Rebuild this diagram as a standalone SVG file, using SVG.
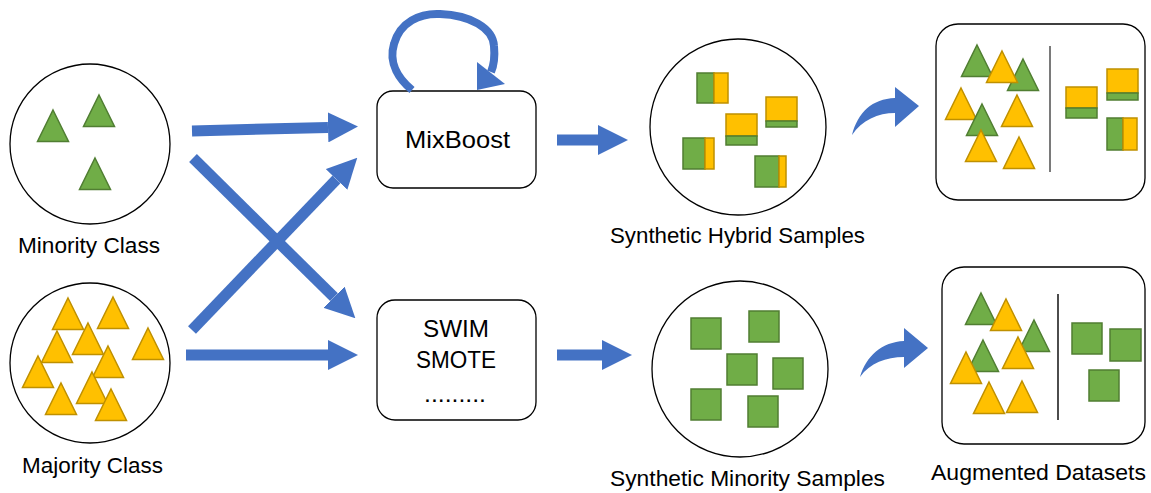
<svg xmlns="http://www.w3.org/2000/svg" xmlns:xlink="http://www.w3.org/1999/xlink" width="1151" height="493" viewBox="0 0 1151 493">
<style>
.circ{fill:#fff;stroke:#000;stroke-width:1.3}
.box{fill:#fff;stroke:#000;stroke-width:1.3}
.g{fill:#70AD47;stroke:#507E32;stroke-width:1.5}
.y{fill:#FFC000;stroke:#BF9000;stroke-width:1.5}
.lbl{font-family:"Liberation Sans",Arial,sans-serif;font-size:22px;fill:#000}
.big{font-size:24px}
.arr{stroke:#4472C4;stroke-width:11;fill:none}
.blue{fill:#4472C4}
</style>
<defs>
<path id="tri" d="M0,0 L15.5,31.5 L-15.5,31.5 Z"/>
<marker id="ah" markerUnits="userSpaceOnUse" markerWidth="30" markerHeight="30" viewBox="0 0 30 30" refX="0" refY="15" orient="auto">
<path d="M0,0 L30,15 L0,30 Z" fill="#4472C4"/>
</marker>
</defs>
<rect width="1151" height="493" fill="#fff"/>

<g id="minority-class">
<circle class="circ" cx="90" cy="144" r="80"/>
<use href="#tri" class="g" x="53" y="110"/>
<use href="#tri" class="g" x="99" y="95"/>
<use href="#tri" class="g" x="95" y="158"/>
<text class="lbl" x="18" y="253" textLength="142" lengthAdjust="spacingAndGlyphs">Minority Class</text>
</g>

<g id="majority-class">
<circle class="circ" cx="90" cy="363" r="80"/>
<use href="#tri" class="y" x="68" y="298"/>
<use href="#tri" class="y" x="113" y="297"/>
<use href="#tri" class="y" x="57" y="331"/>
<use href="#tri" class="y" x="88" y="323"/>
<use href="#tri" class="y" x="148" y="328"/>
<use href="#tri" class="y" x="38" y="356"/>
<use href="#tri" class="y" x="108" y="346"/>
<use href="#tri" class="y" x="92" y="372"/>
<use href="#tri" class="y" x="61" y="383"/>
<use href="#tri" class="y" x="111" y="389"/>
<text class="lbl" x="22" y="473" textLength="141" lengthAdjust="spacingAndGlyphs">Majority Class</text>
</g>

<g id="mixboost">
<rect class="box" x="377" y="91" width="159" height="97" rx="16"/>
<text class="lbl big" x="405" y="148" textLength="105" lengthAdjust="spacingAndGlyphs">MixBoost</text>
</g>

<g id="swim-smote">
<rect class="box" x="377" y="300" width="159" height="120" rx="18"/>
<text class="lbl big" x="423" y="337" textLength="66" lengthAdjust="spacingAndGlyphs">SWIM</text>
<text class="lbl big" x="416" y="368" textLength="80" lengthAdjust="spacingAndGlyphs">SMOTE</text>
<text class="lbl big" x="424" y="402" textLength="62" lengthAdjust="spacingAndGlyphs">.........</text>
</g>

<g id="synthetic-hybrid">
<circle class="circ" cx="738" cy="127" r="88"/>
<rect class="g" x="697" y="73" width="17" height="30"/><rect class="y" x="714" y="73" width="14" height="30"/>
<rect class="y" x="766" y="97" width="31" height="24"/><rect class="g" x="766" y="121" width="31" height="6"/>
<rect class="y" x="726" y="114" width="31" height="22"/><rect class="g" x="726" y="136" width="31" height="9"/>
<rect class="g" x="683" y="138" width="22" height="31"/><rect class="y" x="705" y="138" width="9" height="31"/>
<rect class="g" x="755" y="156" width="24" height="31"/><rect class="y" x="779" y="156" width="7" height="31"/>
<text class="lbl" x="610" y="243" textLength="255" lengthAdjust="spacingAndGlyphs">Synthetic Hybrid Samples</text>
</g>

<g id="synthetic-minority">
<circle class="circ" cx="740" cy="369" r="88"/>
<rect class="g" x="691" y="318" width="30" height="31"/>
<rect class="g" x="749" y="311" width="30" height="31"/>
<rect class="g" x="727" y="354" width="30" height="31"/>
<rect class="g" x="773" y="358" width="30" height="31"/>
<rect class="g" x="691" y="389" width="30" height="31"/>
<rect class="g" x="748" y="396" width="30" height="31"/>
<text class="lbl" x="610" y="486" textLength="275" lengthAdjust="spacingAndGlyphs">Synthetic Minority Samples</text>
</g>

<g id="augmented-hybrid">
<rect class="box" x="936" y="24" width="209" height="176" rx="22"/>
<line x1="1050" y1="46" x2="1050" y2="172" stroke="#595959" stroke-width="1.6"/>
<use href="#tri" class="g" x="977" y="45"/>
<use href="#tri" class="g" x="1023" y="59"/>
<use href="#tri" class="y" x="1002" y="51"/>
<use href="#tri" class="y" x="961" y="88"/>
<use href="#tri" class="g" x="982" y="104"/>
<use href="#tri" class="y" x="1017" y="95"/>
<use href="#tri" class="y" x="981" y="130"/>
<use href="#tri" class="y" x="1019" y="137"/>
<rect class="y" x="1066" y="87" width="31" height="21"/><rect class="g" x="1066" y="108" width="31" height="10"/>
<rect class="y" x="1107" y="69" width="31" height="24"/><rect class="g" x="1107" y="93" width="31" height="7"/>
<rect class="g" x="1107" y="118" width="16" height="32"/><rect class="y" x="1123" y="118" width="14" height="32"/>
</g>

<g id="augmented-minority">
<rect class="box" x="942" y="267" width="203" height="177" rx="22"/>
<line x1="1058" y1="294" x2="1058" y2="420" stroke="#000" stroke-width="1.4"/>
<use href="#tri" class="g" x="981" y="293"/>
<use href="#tri" class="y" x="1006" y="299"/>
<use href="#tri" class="g" x="1034" y="320"/>
<use href="#tri" class="g" x="983" y="340"/>
<use href="#tri" class="y" x="1018" y="337"/>
<use href="#tri" class="y" x="966" y="352"/>
<use href="#tri" class="y" x="989" y="382"/>
<use href="#tri" class="y" x="1022" y="381"/>
<rect class="g" x="1072" y="323" width="30" height="31"/>
<rect class="g" x="1110" y="329" width="31" height="32"/>
<rect class="g" x="1089" y="370" width="30" height="31"/>
<text class="lbl" x="931" y="480" textLength="215" lengthAdjust="spacingAndGlyphs">Augmented Datasets</text>
</g>

<g id="connectors">
<line class="arr" x1="192" y1="131" x2="328" y2="127.4" marker-end="url(#ah)"/>
<line class="arr" x1="186" y1="355" x2="328" y2="355" marker-end="url(#ah)"/>
<line class="arr" x1="193" y1="158" x2="334" y2="297.2" marker-end="url(#ah)"/>
<line class="arr" x1="192" y1="330" x2="336.5" y2="179.4" marker-end="url(#ah)"/>
<line class="arr" x1="557" y1="140" x2="598" y2="140" marker-end="url(#ah)"/>
<line class="arr" x1="557" y1="355" x2="602" y2="355" marker-end="url(#ah)"/>
<path d="M412,90 C400,80 388,64 394,44 C400,22 420,13 440,14 C470,15 493,28 494,46 C495,57 494,65 491,72" stroke="#4472C4" stroke-width="8" fill="none"/>
<polygon class="blue" points="477,62 505,84 477,90"/>
<path class="blue" d="M852,135 C858,112 872,99 895,98 L895,87 L919,106 L895,127 L895,113 C878,113 862,120 852,135 Z"/>
<path class="blue" d="M860,377 C866,356 882,342 904,341 L904,328 L928,348 L904,368 L904,357 C886,357 870,363 860,377 Z"/>
</g>
</svg>
